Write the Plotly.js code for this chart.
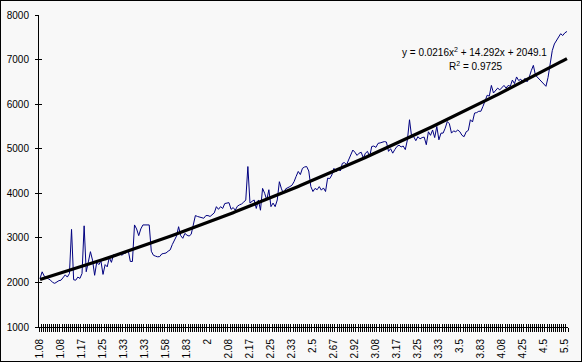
<!DOCTYPE html>
<html>
<head>
<meta charset="utf-8">
<script src="https://cdn.plot.ly/plotly-3.0.1.min.js"></script>
<style>
  html, body { margin: 0; padding: 0; background: #f8f8f8; }
  #chart { width: 580px; height: 360px; border: 1px solid #000; }
</style>
</head>
<body>
<div id="chart"></div>
<script>
// Category labels shown under the axis (every 10th category)
const tickLabels = ['1.08','1.08','1.17','1.25','1.33','1.33','1.58','1.83','2','2.08','2.17','2.25','2.33','2.5','2.67','2.92','3.08','3.17','3.25','3.33','3.5','3.83','4.08','4.25','4.5','5.5'];
const labelEvery = 10;

// Series values (one per category)
const seriesValues = [
  2090,2238,2140,2100,2080,2050,2000,1980,2020,2040,
  2050,2100,2170,2120,2200,3190,2060,2050,2120,2090,
  2200,3270,2240,2460,2690,2500,2160,2450,2400,2480,
  2180,2400,2350,2560,2450,2620,2580,2650,2640,2610,
  2650,2660,2720,2470,2470,3290,3200,3050,3200,3290,
  3290,3280,3290,2700,2610,2590,2575,2580,2640,2650,
  2660,2700,2730,2850,2950,3040,3250,3050,2990,3100,
  3060,3040,3080,3280,3500,3480,3470,3450,3440,3500,
  3500,3480,3520,3560,3700,3640,3700,3660,3770,3780,
  3790,3640,3680,3620,3710,3740,3760,3800,3850,4600,
  3780,3820,3850,3660,3850,3620,4110,4000,3850,4080,
  3700,3780,3700,3850,4260,4100,3990,4100,4120,4150,
  4180,4260,4380,4490,4420,4560,4590,4600,4500,4150,
  4040,4110,4080,4150,4070,4120,4040,4340,4330,4410,
  4560,4480,4560,4500,4670,4690,4640,4750,4900,4970,
  4920,4850,4900,4920,4790,4900,4940,4820,5050,5060,
  5030,5120,5130,5140,5160,5150,4940,5000,4900,4980,
  5050,5080,5040,5060,4980,5200,5650,5270,5270,5180,
  5270,5220,5250,5260,5090,5380,5300,5420,5250,5500,
  5200,5350,5350,5460,5610,5560,5350,5400,5380,5420,
  5380,5300,5270,5380,5410,5650,5600,5800,5810,5840,
  5840,5950,6100,6200,6180,6420,6250,6300,6360,6320,
  6380,6420,6360,6420,6400,6540,6460,6610,6530,6560,
  6480,6580,6500,6600,6750,6870,6650,6600,6560,6520,
  6450,6400,6600,6900,7200,7350,7420,7520,7580,7540,
  7600,7630
];

// Polynomial trendline coefficients (as printed on the chart)
const trendA = 0.0216, trendB = 14.292, trendC = 2049.1;
const trendEquation = 'y = 0.0216x<sup>2</sup> + 14.292x + 2049.1';
const trendR2 = 'R<sup>2</sup> = 0.9725';

const yTicks = [1000,2000,3000,4000,5000,6000,7000,8000];

const n = seriesValues.length;
const xIdx = seriesValues.map((_, i) => i);
const trendY = xIdx.map(i => { const k = i + 1; return trendA*k*k + trendB*k + trendC; });
const labelPos = tickLabels.map((_, j) => j * labelEvery);
const boundaryTicks = [];
for (let i = 0; i <= n; i++) boundaryTicks.push(i - 0.5);

const xr = [-0.5, n - 0.5];
const yr = [1000, 8000];
const font = {family: 'Liberation Sans, Arial, sans-serif', size: 10, color: '#000'};

const traces = [
  {x: xIdx, y: seriesValues, type: 'scatter', mode: 'lines',
   line: {color: '#000080', width: 1}, hoverinfo: 'skip', showlegend: false},
  {x: xIdx, y: trendY, type: 'scatter', mode: 'lines',
   line: {color: '#000000', width: 3.2}, hoverinfo: 'skip', showlegend: false},
  {x: [], y: [], xaxis: 'x2', yaxis: 'y', type: 'scatter', showlegend: false},
  {x: [], y: [], xaxis: 'x3', yaxis: 'y', type: 'scatter', showlegend: false},
  {x: [], y: [], xaxis: 'x', yaxis: 'y2', type: 'scatter', showlegend: false},
  {x: [], y: [], xaxis: 'x', yaxis: 'y3', type: 'scatter', showlegend: false}
];

const layout = {
  width: 580, height: 360,
  margin: {l: 38, r: 13, t: 14, b: 34},
  paper_bgcolor: '#f8f8f8', plot_bgcolor: '#f8f8f8',
  font: font,
  showlegend: false,
  xaxis: {range: xr, tickmode: 'array', tickvals: labelPos, ticktext: tickLabels,
          tickangle: -90, ticks: '', showgrid: false, zeroline: false,
          showline: true, linecolor: '#000', linewidth: 1,
          ticklabelstandoff: 7, tickfont: font, fixedrange: true},
  xaxis2: {range: xr, overlaying: 'x', anchor: 'y', tickmode: 'array', tickvals: boundaryTicks,
           ticks: 'outside', ticklen: 4, tickwidth: 1, tickcolor: '#000',
           showticklabels: false, showgrid: false, zeroline: false, showline: false},
  xaxis3: {range: xr, overlaying: 'x', anchor: 'y', tickmode: 'array', tickvals: boundaryTicks,
           ticks: 'inside', ticklen: 3, tickwidth: 1, tickcolor: '#000',
           showticklabels: false, showgrid: false, zeroline: false, showline: false},
  yaxis: {range: yr, tickmode: 'array', tickvals: yTicks, ticktext: yTicks.map(String),
          ticks: 'outside', ticklen: 3, tickwidth: 1, tickcolor: '#000',
          showgrid: false, zeroline: false, showline: true, linecolor: '#000', linewidth: 1,
          ticklabelstandoff: 4, tickfont: font, fixedrange: true},
  yaxis2: {range: yr, overlaying: 'y', anchor: 'x', side: 'left', tickmode: 'array', tickvals: yTicks,
           ticks: 'inside', ticklen: 3, tickwidth: 1, tickcolor: '#000',
           showticklabels: false, showgrid: false, zeroline: false, showline: false},
  yaxis3: {range: yr, overlaying: 'y', anchor: 'x', side: 'left', tickmode: 'array', tickvals: yTicks,
           ticks: '', showticklabels: false, showgrid: false, zeroline: false, showline: false},
  annotations: [
    {xref: 'paper', yref: 'paper', x: 0.824, y: 0.881, text: trendEquation, showarrow: false,
     font: font, xanchor: 'center', yanchor: 'middle'},
    {xref: 'paper', yref: 'paper', x: 0.827, y: 0.836, text: trendR2, showarrow: false,
     font: font, xanchor: 'center', yanchor: 'middle'}
  ]
};

Plotly.newPlot('chart', traces, layout, {staticPlot: true, displayModeBar: false});
</script>
</body>
</html>
